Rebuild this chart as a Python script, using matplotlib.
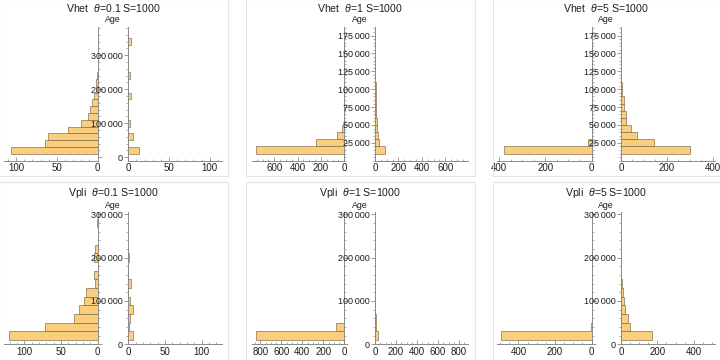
import numpy as np
import matplotlib
matplotlib.use('Agg')
from matplotlib import pyplot as plt
from matplotlib.ticker import MultipleLocator, FuncFormatter

plt.rcParams['font.family'] = ['Liberation Sans', 'DejaVu Sans']
plt.rcParams['mathtext.fontset'] = 'custom'
plt.rcParams['mathtext.it'] = 'Liberation Sans:italic'
plt.rcParams['mathtext.rm'] = 'Liberation Sans'

# counts per age bin, bins start at 10000
vhet01_left = [107, 64, 61, 36, 20, 12, 9, 7, 4, 2, 1.5, 1]
vhet01_right = [13.5, 0, 5.5, 0, 2, 0, 0, 0, 3, 0, 0, 2.5, 0, 0, 0, 0, 3]
vhet1_left = [757, 243, 60, 17, 5]
vhet1_right = [86, 37, 28, 20, 14, 12, 10, 8, 6, 5, 3, 2, 1]
vhet5_left = [381, 15]
vhet5_right = [303, 143, 68, 42, 22, 20, 13, 12, 6, 3, 2, 1]
vpli01_left = [121, 72, 32, 26, 18, 15.5, 4, 5, 0, 4.5, 3, 0, 0, 1]
vpli01_right = [6, 1, 2, 6, 2, 0, 3.5, 0, 0, 1]
vpli1_left = [841, 79]
vpli1_right = [30, 8, 6, 4, 2]
vpli5_left = [497, 2]
vpli5_right = [170, 52, 36, 21, 16, 12, 4, 2]

titles = ['Vhet  $\\theta$=0.1 S=1000', 'Vhet  $\\theta$=1 S=1000', 'Vhet  $\\theta$=5 S=1000',
          'Vpli  $\\theta$=0.1 S=1000', 'Vpli  $\\theta$=1 S=1000', 'Vpli  $\\theta$=5 S=1000']
lefts = [vhet01_left, vhet1_left, vhet5_left, vpli01_left, vpli1_left, vpli5_left]
rights = [vhet01_right, vhet1_right, vhet5_right, vpli01_right, vpli1_right, vpli5_right]
binw = [20000, 10000, 10000, 20000, 20000, 20000]
xrange_ = [115, 790, 410, 128, 880, 517]
xmajor = [50, 200, 200, 50, 200, 200]
xminor = [10, 50, 50, 10, 50, 50]
ylims = [(-10000, 383000), (0, 187000), (0, 187000), (0, 305000), (0, 305000), (0, 305000)]
ymajor = [100000, 25000, 25000, 100000, 100000, 100000]
yminor = [20000, 5000, 5000, 20000, 20000, 20000]

W, H = 720, 360
fig = plt.figure(figsize=(7.2, 3.6), dpi=100)

cols = [(4, 97.5, 128.3, 222), (252, 344.3, 375, 467.5), (497, 591.5, 621, 715)]
rows = [(27, 160.7), (212, 344.3)]
title_y = [8, 193.5]
age_y = [20, 205]

# faint panel frames
for (x0, x1) in [(-1, 228), (246, 475), (493, 721)]:
    for (y0, y1) in [(-1, 176), (182, 361)]:
        fig.add_artist(plt.Rectangle((x0 / W, 1 - y1 / H), (x1 - x0) / W, (y1 - y0) / H,
                                     fill=False, ec='#e4e4e4', lw=0.8, transform=fig.transFigure))

face = '#fbce7e'
edge = (0.45, 0.38, 0.25, 0.7)
axcol = '#8a8a8a'
txtcol = '#1e1e1e'

def fmt(v, pos):
    v = int(round(v))
    return '{:,}'.format(v).replace(',', '\u2009')

def rect(x0, x1, yt, yb):
    return [x0 / W, 1 - yb / H, (x1 - x0) / W, (yb - yt) / H]

for i in range(6):
    r, c = divmod(i, 3)
    lx0, lx1, rx0, rx1 = cols[c]
    yt, yb = rows[r]
    axL = fig.add_axes(rect(lx0, lx1, yt, yb))
    axR = fig.add_axes(rect(rx0, rx1, yt, yb))
    ages_l = 10000 + binw[i] * np.arange(len(lefts[i]))
    ages_r = 10000 + binw[i] * np.arange(len(rights[i]))
    axL.barh(ages_l, lefts[i], height=binw[i], align='edge', color=face, edgecolor=edge, lw=0.6)
    axR.barh(ages_r, rights[i], height=binw[i], align='edge', color=face, edgecolor=edge, lw=0.6)
    axL.set_xlim(xrange_[i], 0)
    axR.set_xlim(0, xrange_[i])
    for ax in (axL, axR):
        ax.set_ylim(*ylims[i])
        ax.set_facecolor('none')
        ax.spines['top'].set_visible(False)
        for s in ax.spines.values():
            s.set_color(axcol)
            s.set_linewidth(0.7)
        ax.xaxis.set_major_locator(MultipleLocator(xmajor[i]))
        ax.xaxis.set_minor_locator(MultipleLocator(xminor[i]))
        ax.yaxis.set_major_locator(MultipleLocator(ymajor[i]))
        ax.yaxis.set_minor_locator(MultipleLocator(yminor[i]))
        ax.tick_params(axis='x', which='major', direction='in', length=3, width=0.6,
                       color=axcol, labelsize=7, labelcolor=txtcol, pad=2)
        ax.tick_params(axis='x', which='minor', direction='in', length=1.5, width=0.5, color=axcol)
        ax.tick_params(axis='y', which='major', direction='out', length=3, width=0.6,
                       color=axcol, labelsize=6.5, labelcolor=txtcol, pad=1)
        ax.tick_params(axis='y', which='minor', direction='out', length=1.5, width=0.5, color=axcol)
    axL.spines['left'].set_visible(False)
    axL.yaxis.tick_right()
    axL.tick_params(axis='y', which='both', labelright=False)
    axR.spines['right'].set_visible(False)
    axR.yaxis.tick_left()
    axR.yaxis.set_major_formatter(FuncFormatter(fmt))
    lo, hi = ylims[i]
    ticks = np.arange(0, hi + 1, ymajor[i])
    if i in (1, 2):
        ticks = ticks[ticks > 0]
    axR.set_yticks(ticks)
    axL.set_yticks(ticks)

    cx = (lx1 + rx0) / 2
    fig.text((lx0 + rx1) / 2 / W, 1 - title_y[r] / H, titles[i], ha='center', va='center',
             fontsize=7.6, color=txtcol)
    fig.text(cx / W, 1 - age_y[r] / H, 'Age', ha='center', va='center', fontsize=6.3, color=txtcol)

fig.savefig('out.png', dpi=100)
